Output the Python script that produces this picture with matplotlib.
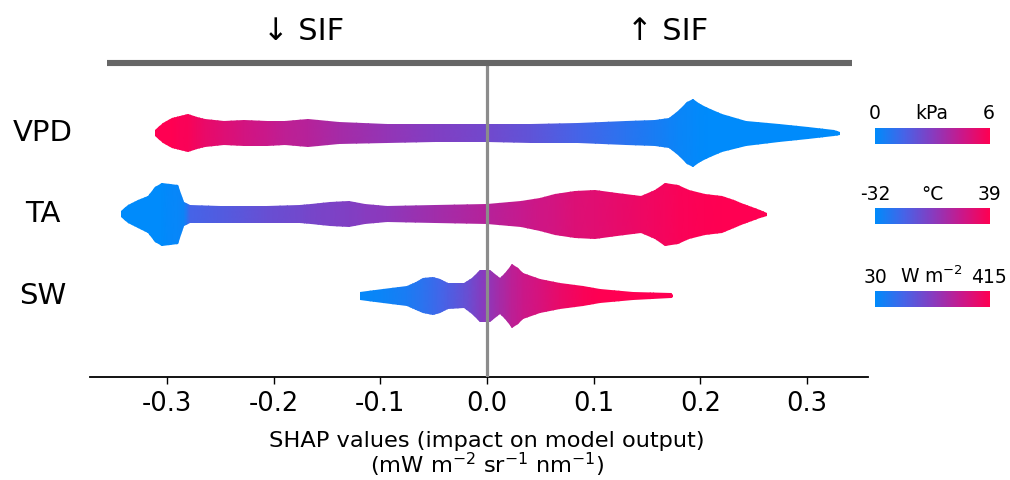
import numpy as np
import matplotlib
matplotlib.use("Agg")
import matplotlib.pyplot as plt
from matplotlib.colors import LinearSegmentedColormap
from matplotlib.lines import Line2D
import matplotlib.transforms as mtransforms

plt.rcParams['font.family'] = ['DejaVu Sans']
plt.rcParams['mathtext.default'] = 'regular'

# ---------------- data ----------------
features = ["VPD", "TA", "SW"]
row_pos = [2, 1, 0]

# swarm outline: SHAP value knots, half-thickness of the swarm (pixels), feature colour value (0 low .. 1 high)
vpd_x = [-0.311, -0.304, -0.295, -0.288, -0.280, -0.272, -0.264, -0.246, -0.228, -0.206,
         -0.189, -0.168, -0.139, -0.094, -0.049, 0.000, 0.041, 0.085, 0.130, 0.157,
         0.171, 0.179, 0.187, 0.193, 0.200, 0.207, 0.220, 0.243, 0.274, 0.301, 0.325, 0.331]
vpd_half = [3, 10, 14.7, 17, 18.7, 16, 14, 11.7, 12.8, 12.5,
            12, 14, 11, 9.5, 8.7, 9, 9.5, 10.3, 11.7, 13,
            15, 22, 31, 34, 29, 25, 19, 12.5, 9, 6.3, 3.3, 1.5]
vpd_col = [1.0, 1.0, 1.0, 0.98, 0.97, 0.93, 0.9, 0.85, 0.8, 0.75,
           0.71, 0.68, 0.62, 0.55, 0.48, 0.42, 0.35, 0.25, 0.15, 0.09,
           0.06, 0.04, 0.03, 0.02, 0.01, 0.0, 0.0, 0.0, 0.0, 0.0, 0.0, 0.0]

ta_x = [-0.343, -0.336, -0.327, -0.318, -0.311, -0.305, -0.297, -0.290, -0.284, -0.278,
        -0.250, -0.206, -0.175, -0.165, -0.147, -0.129, -0.114, -0.094, -0.049, 0.000,
        0.032, 0.050, 0.064, 0.082, 0.101, 0.122, 0.144, 0.157, 0.167, 0.179,
        0.189, 0.204, 0.220, 0.231, 0.238, 0.248, 0.256, 0.262]
ta_half = [3, 9, 14, 19, 28, 32, 31, 30, 12, 9,
           8.5, 8.3, 9, 10, 12, 13, 10, 8, 9, 10,
           13, 17, 21, 24, 25, 22, 19, 25, 31.7, 30,
           25, 21, 19, 14, 11, 7, 4, 1.5]
ta_col = [0.0, 0.0, 0.0, 0.0, 0.0, 0.0, 0.02, 0.03, 0.05, 0.25,
          0.3, 0.38, 0.42, 0.44, 0.46, 0.48, 0.5, 0.52, 0.6, 0.68,
          0.74, 0.78, 0.8, 0.84, 0.86, 0.89, 0.92, 0.94, 0.95, 0.97,
          0.98, 0.99, 1.0, 1.0, 1.0, 1.0, 1.0, 1.0]

sw_x = [-0.119, -0.097, -0.075, -0.067, -0.060, -0.051, -0.044, -0.037, -0.022, -0.014,
        -0.007, 0.003, 0.012, 0.018, 0.023, 0.029, 0.034, 0.050, 0.068, 0.090,
        0.106, 0.137, 0.172, 0.174]
sw_half = [4, 6.7, 10, 14, 17.5, 19, 17, 13, 12.5, 18,
           26, 26, 18, 24, 32, 28, 23, 17, 13, 10,
           6.7, 4.3, 2.5, 1]
sw_col = [0.02, 0.05, 0.1, 0.13, 0.16, 0.2, 0.24, 0.28, 0.36, 0.42,
          0.48, 0.55, 0.62, 0.66, 0.7, 0.73, 0.76, 0.82, 0.9, 0.97,
          1.0, 1.0, 1.0, 1.0]

xticks = [-0.3, -0.2, -0.1, 0.0, 0.1, 0.2, 0.3]
cbar_low = ["0", "-32", "30"]
cbar_unit = ["kPa", "°C", "W m$^{-2}$"]
cbar_high = ["6", "39", "415"]

# ---------------- figure ----------------
W, H = 1010, 480
fig = plt.figure(figsize=(W / 100, H / 100), dpi=100)

def fx(px):
    return px / W

def fy(py):
    return 1 - py / H

ax = fig.add_axes([fx(90), fy(377), fx(868) - fx(90), fy(63) - fy(377)])
row_px = 81.5  # pixels per row unit
ax.set_xlim(-0.372, 0.357)
ax.set_ylim(-0.994, 2.859)

cmap = LinearSegmentedColormap.from_list(
    "shap_rb",
    [(0.0, (0 / 255, 139 / 255, 251 / 255)),
     (0.25, (70 / 255, 100 / 255, 232 / 255)),
     (0.5, (135 / 255, 60 / 255, 192 / 255)),
     (0.75, (200 / 255, 25 / 255, 140 / 255)),
     (1.0, (255 / 255, 0 / 255, 82 / 255))])

rows = [(vpd_x, vpd_half, vpd_col), (ta_x, ta_half, ta_col), (sw_x, sw_half, sw_col)]
for (xs, hs, cs), y0 in zip(rows, row_pos):
    xs = np.asarray(xs)
    hs = np.asarray(hs) / row_px
    cs = np.asarray(cs)
    # outline polygon of the swarm
    px_ = np.concatenate([xs, xs[::-1]])
    py_ = np.concatenate([y0 + hs, (y0 - hs)[::-1]])
    poly = ax.fill(px_, py_, facecolor="none", edgecolor="none")[0]
    X = np.vstack([xs, xs])
    Y = np.vstack([np.full_like(xs, y0 - 0.5), np.full_like(xs, y0 + 0.5)])
    C = np.vstack([cs, cs])
    mesh = ax.pcolormesh(X, Y, C, shading="gouraud", cmap=cmap, vmin=0, vmax=1, zorder=2)
    mesh.set_clip_path(poly)

ax.axvline(0, color="#8c8c8c", lw=2.3, zorder=5)

for s in ["top", "left", "right"]:
    ax.spines[s].set_visible(False)
ax.spines["bottom"].set_linewidth(1.3)
ax.set_yticks([])
ax.set_xticks(xticks)
ax.set_xticklabels([f"{t:.1f}" for t in xticks], fontsize=18.5)
ax.tick_params(axis="x", length=5, width=1.0, pad=5)

# row labels
trans = mtransforms.blended_transform_factory(fig.transFigure, ax.transData)
for name, y0 in zip(features, row_pos):
    ax.text(fx(43), y0, name, transform=trans, ha="center", va="center", fontsize=21)

# top bar and direction labels
fig.add_artist(Line2D([fx(107), fx(852)], [fy(63), fy(63)], color="#666666", lw=4.4,
                      solid_capstyle="butt"))
fig.text(fx(304), fy(40), "↓ SIF", ha="center", va="baseline", fontsize=22)
fig.text(fx(668), fy(40), "↑ SIF", ha="center", va="baseline", fontsize=22)

# x label
fig.text(fx(487), fy(447), "SHAP values (impact on model output)", ha="center",
         va="baseline", fontsize=16.2)
fig.text(fx(487), fy(473), "(mW m$^{-2}$ sr$^{-1}$ nm$^{-1}$)", ha="center",
         va="baseline", fontsize=16.2)

# colour bars
bar_tops = [128, 208, 291]
label_base = [119, 200, 283]
grad = np.linspace(0, 1, 256)[None, :]
for top, base, lo, un, hi in zip(bar_tops, label_base, cbar_low, cbar_unit, cbar_high):
    cax = fig.add_axes([fx(875), fy(top + 16), fx(990) - fx(875), 16 / H])
    cax.imshow(grad, aspect="auto", cmap=cmap)
    cax.set_axis_off()
    fig.text(fx(875), fy(base), lo, ha="center", va="baseline", fontsize=13.5)
    fig.text(fx(932), fy(base), un, ha="center", va="baseline", fontsize=13.5)
    fig.text(fx(989), fy(base), hi, ha="center", va="baseline", fontsize=13.5)

fig.savefig("out.png", dpi=100)
